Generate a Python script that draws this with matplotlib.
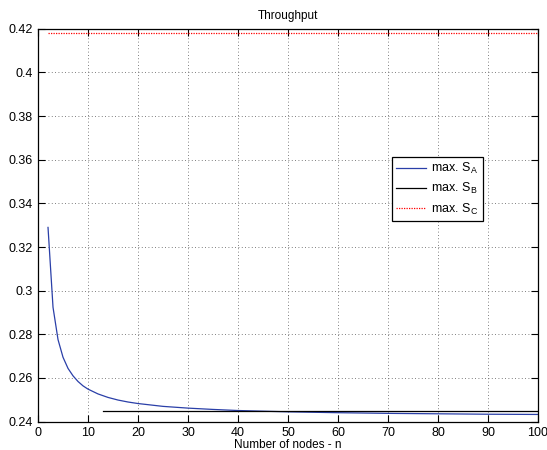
import matplotlib
matplotlib.use('Agg')
import matplotlib.pyplot as plt

plt.rcParams['font.family'] = ['Liberation Sans', 'DejaVu Sans']
plt.rcParams['font.size'] = 9
plt.rcParams['mathtext.default'] = 'regular'

# max. S_A
n_a = [2, 3, 4, 5, 6, 7, 8, 9, 10, 12, 14, 16, 18, 20, 25, 30, 35, 40, 50, 60, 70, 80, 90, 100]
s_a = [0.3290, 0.2924, 0.2776, 0.2695, 0.2644, 0.2610, 0.2584, 0.2564, 0.2549,
       0.2527, 0.2511, 0.2499, 0.2490, 0.2483, 0.2470, 0.2462, 0.2456, 0.2451,
       0.2445, 0.2441, 0.2438, 0.2436, 0.2434, 0.2433]

# max. S_B (flat)
n_b = [13, 100]
s_b = [0.2451, 0.2451]

# max. S_C (flat)
n_c = [2, 100]
s_c = [0.4180, 0.4180]

fig = plt.figure(figsize=(5.47, 4.5), dpi=100)
ax = fig.add_axes([0.0695, 0.063, 0.914, 0.873])

ax.plot(n_a, s_a, color='#2a3fa8', lw=0.9, label='max. S$_A$')
ax.plot(n_b, s_b, color='black', lw=0.9, label='max. S$_B$')
ax.plot(n_c, s_c, color='red', lw=0.9, ls=(0, (1, 1)), label='max. S$_C$')

ax.set_xlim(0, 100)
ax.set_ylim(0.24, 0.42)
ax.set_xticks(range(0, 101, 10))
ax.set_yticks([0.24, 0.26, 0.28, 0.30, 0.32, 0.34, 0.36, 0.38, 0.40, 0.42])
ax.set_yticklabels(['0.24', '0.26', '0.28', '0.3', '0.32', '0.34', '0.36', '0.38', '0.4', '0.42'])
ax.tick_params(direction='in', length=5, width=0.8, top=True, right=True, pad=4)
ax.grid(True, color='#555555', ls=(0, (1, 3)), lw=0.6)
for s in ax.spines.values():
    s.set_linewidth(0.9)

ax.set_title('Throughput', fontsize=8.5, pad=7)
ax.set_xlabel('Number of nodes - n', fontsize=8.5, labelpad=0)

leg = ax.legend(loc='upper left', bbox_to_anchor=(0.708, 0.674), fancybox=False,
                edgecolor='black', framealpha=1, handlelength=2.4, fontsize=9,
                borderpad=0.35, labelspacing=0.4, handletextpad=0.4,
                borderaxespad=0)
leg.get_frame().set_linewidth(0.9)

fig.savefig('out.png', dpi=100)
